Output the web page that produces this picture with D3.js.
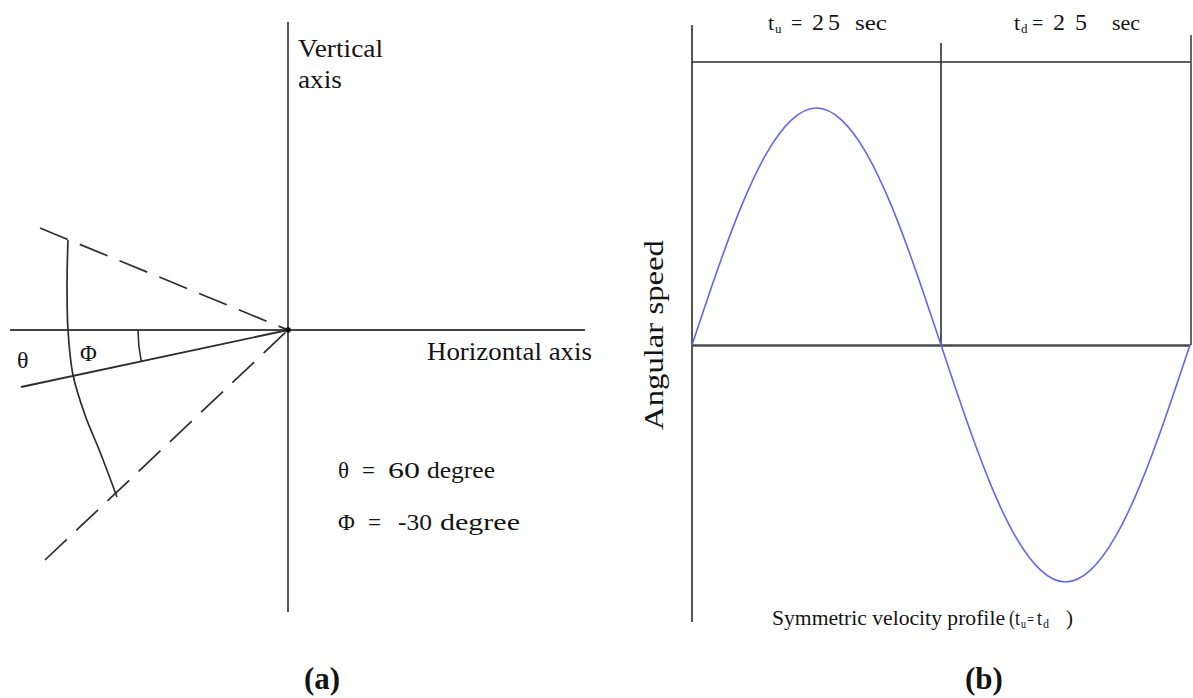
<!DOCTYPE html>
<html>
<head>
<meta charset="utf-8">
<script src="https://cdn.jsdelivr.net/npm/d3@7"></script>
<style>
  body { margin: 0; background: #fff; }
  svg { display: block; background: #fff; }
  text { font-family: "Liberation Serif", "Times New Roman", serif; fill: #141414; }
</style>
</head>
<body>
<svg id="chart" width="1193" height="698"></svg>
<script>
// ---------- Panel (b): symmetric velocity profile ----------
const timeSec = [0, 2.5, 5, 7.5, 10, 12.5, 15, 17.5, 20, 22.5, 25,
                 27.5, 30, 32.5, 35, 37.5, 40, 42.5, 45, 47.5, 50];
const angularSpeed = [0, 0.31, 0.59, 0.81, 0.95, 1.0, 0.95, 0.81, 0.59, 0.31, 0,
                      -0.31, -0.59, -0.81, -0.95, -1.0, -0.95, -0.81, -0.59, -0.31, 0];
const phaseNames = ["u", "d"];
const phaseDurations = [25, 25];
const phaseUnit = "sec";
const yLabel = "Angular speed";
const profileCaption = "Symmetric velocity profile";

// ---------- Panel (a): angle definitions ----------
const angleSymbols = ["θ", "Φ"];
const angleDegrees = [60, -30];
const angleUnit = "degree";
const axisLabels = ["Vertical", "axis", "Horizontal axis"];
const panelLabels = ["(a)", "(b)"];

const svg = d3.select("#chart");
const ink = "#2e2e2e";

// =============== Panel (b) ===============
const x = d3.scaleLinear().domain([0, d3.sum(phaseDurations)]).range([692, 1190]);
const y = d3.scaleLinear().domain([-1, 1]).range([582, 108]);
const gB = svg.append("g");

// frame lines
gB.append("line").attr("x1", x(0)).attr("x2", x(0)).attr("y1", 25).attr("y2", 622)
  .attr("stroke", "#555").attr("stroke-width", 2);
gB.append("line").attr("x1", x(0)).attr("x2", x(50) + 1).attr("y1", 62).attr("y2", 62)
  .attr("stroke", ink).attr("stroke-width", 1.6);
const bounds = [0, ...d3.cumsum(phaseDurations)];
gB.append("line").attr("x1", x(bounds[1])).attr("x2", x(bounds[1])).attr("y1", 43).attr("y2", y(0))
  .attr("stroke", ink).attr("stroke-width", 1.6);
gB.append("line").attr("x1", x(bounds[2]) + 1).attr("x2", x(bounds[2]) + 1).attr("y1", 35).attr("y2", y(0))
  .attr("stroke", "#555").attr("stroke-width", 1.8);

// zero axis via d3 axis
gB.append("g").attr("transform", `translate(0,${y(0)})`)
  .call(d3.axisBottom(x).tickValues([]).tickSizeOuter(0))
  .call(g => g.select(".domain").attr("stroke", "#4a4a4a").attr("stroke-width", 2.4));

// velocity curve
const line = d3.line().x((d, i) => x(timeSec[i])).y(d => y(d)).curve(d3.curveNatural);
gB.append("path").datum(angularSpeed).attr("d", line)
  .attr("fill", "none").attr("stroke", "#6464f4").attr("stroke-width", 1.6);

// phase labels
const phaseLayout = [
  { t: 76, sub: 83, eq: 99, num: 120, numW: 28, sec: 163, secW: 32 },
  { t: 73, sub: 80, eq: 91, num: 112, numW: 34, sec: 171, secW: 28 }
];
phaseNames.forEach((nm, i) => {
  const b = x(bounds[i]);
  const L = phaseLayout[i];
  const base = 30;
  gB.append("text").attr("x", b + L.t).attr("y", base).attr("font-size", 22).text("t");
  gB.append("text").attr("x", b + L.sub).attr("y", base + 3).attr("font-size", 13).text(nm);
  gB.append("text").attr("x", b + L.eq).attr("y", base).attr("font-size", 20).text("=");
  gB.append("text").attr("x", b + L.num).attr("y", base).attr("font-size", 24)
    .attr("textLength", L.numW).attr("lengthAdjust", "spacing").text(String(phaseDurations[i]));
  gB.append("text").attr("x", b + L.sec).attr("y", base).attr("font-size", 20)
    .attr("textLength", L.secW).attr("lengthAdjust", "spacingAndGlyphs").text(phaseUnit);
});

// y label
gB.append("text").attr("transform", "translate(663,335) rotate(-90)")
  .attr("text-anchor", "middle").attr("font-size", 28)
  .attr("textLength", 190).attr("lengthAdjust", "spacingAndGlyphs").text(yLabel);

// caption (pieces placed side by side)
const capBase = 625;
const capPieces = [
  { txt: profileCaption, x: 772, size: 22, w: 233, dy: 0 },
  { txt: "(t", x: 1009, size: 22, w: 11, dy: 0 },
  { txt: phaseNames[0], x: 1021, size: 12, w: 5, dy: 3 },
  { txt: "=", x: 1027, size: 16, w: 7, dy: 0 },
  { txt: "t", x: 1037, size: 22, w: 5, dy: 0 },
  { txt: phaseNames[1], x: 1043, size: 12, w: 6, dy: 3 },
  { txt: ")", x: 1066, size: 22, w: 7, dy: 0 }
];
capPieces.forEach(c => gB.append("text").attr("x", c.x).attr("y", capBase + c.dy)
  .attr("font-size", c.size).attr("textLength", c.w).attr("lengthAdjust", "spacingAndGlyphs").text(c.txt));

// =============== Panel (a) ===============
const gx = d3.scaleLinear().domain([-300, 300]).range([-12, 588]);
const gy = d3.scaleLinear().domain([-300, 300]).range([630, 30]);
const gA = svg.append("g");
const seg = d3.line().x(d => gx(d[0])).y(d => gy(d[1]));

// axes
gA.append("path").attr("d", seg([[-278, 0], [297, 0]])).attr("stroke", "#444").attr("stroke-width", 2).attr("fill", "none");
gA.append("path").attr("d", seg([[0, 308], [0, -282]])).attr("stroke", "#555").attr("stroke-width", 2).attr("fill", "none");

// dashed bounding rays
const dashedRays = [[[-248, 102], [0, 0]], [[-243, -230], [0, 0]]];
dashedRays.forEach(r => gA.append("path").attr("d", seg(r))
  .attr("stroke", ink).attr("stroke-width", 1.7).attr("stroke-dasharray", "30,13").attr("fill", "none"));

// phi ray
const phiRay = [[-267, -57], [0, 0]];
gA.append("path").attr("d", seg(phiRay)).attr("stroke", ink).attr("stroke-width", 1.8).attr("fill", "none");

// outer arc
const arcPts = [[-220, 90], [-221, 45], [-220, 0], [-215, -45], [-203, -85], [-188, -122], [-171, -167]];
gA.append("path").attr("d", d3.line().x(d => gx(d[0])).y(d => gy(d[1])).curve(d3.curveCatmullRom)(arcPts))
  .attr("stroke", ink).attr("stroke-width", 1.7).attr("fill", "none");

// small angle marker
const phiAng = Math.atan2(-phiRay[0][1], -phiRay[0][0]);
const p = d3.path();
p.arc(gx(0), gy(0), 150, Math.PI - phiAng, Math.PI);
gA.append("path").attr("d", p.toString()).attr("stroke", ink).attr("stroke-width", 1.6).attr("fill", "none");

// origin dot
gA.append("circle").attr("cx", gx(0)).attr("cy", gy(0)).attr("r", 2.8).attr("fill", "#111");

// labels
gA.append("text").attr("x", 17).attr("y", 368).attr("font-size", 24).text(angleSymbols[0]);
gA.append("text").attr("x", 80).attr("y", 361).attr("font-size", 23).text(angleSymbols[1]);

gA.append("text").attr("x", 298).attr("y", 57).attr("font-size", 26)
  .attr("textLength", 85).attr("lengthAdjust", "spacingAndGlyphs").text(axisLabels[0]);
gA.append("text").attr("x", 298).attr("y", 88).attr("font-size", 26)
  .attr("textLength", 44).attr("lengthAdjust", "spacingAndGlyphs").text(axisLabels[1]);
gA.append("text").attr("x", 427).attr("y", 360).attr("font-size", 26)
  .attr("textLength", 165).attr("lengthAdjust", "spacingAndGlyphs").text(axisLabels[2]);

// angle values
const valLayout = [
  { base: 478, sym: 338, eq: 362, num: 388, numW: 32, unit: 427, unitW: 68 },
  { base: 530, sym: 338, eq: 368, num: 398, numW: 34, unit: 440, unitW: 80 }
];
angleSymbols.forEach((s, i) => {
  const L = valLayout[i];
  gA.append("text").attr("x", L.sym).attr("y", L.base).attr("font-size", 23).text(s);
  gA.append("text").attr("x", L.eq).attr("y", L.base).attr("font-size", 23).text("=");
  gA.append("text").attr("x", L.num).attr("y", L.base).attr("font-size", 23)
    .attr("textLength", L.numW).attr("lengthAdjust", "spacingAndGlyphs").text(String(angleDegrees[i]));
  gA.append("text").attr("x", L.unit).attr("y", L.base).attr("font-size", 23)
    .attr("textLength", L.unitW).attr("lengthAdjust", "spacingAndGlyphs").text(angleUnit);
});

// panel labels
svg.append("text").attr("x", 322).attr("y", 689).attr("text-anchor", "middle")
  .attr("font-size", 31).attr("font-weight", "bold").text(panelLabels[0]);
svg.append("text").attr("x", 984).attr("y", 689).attr("text-anchor", "middle")
  .attr("font-size", 31).attr("font-weight", "bold").text(panelLabels[1]);
</script>
</body>
</html>
